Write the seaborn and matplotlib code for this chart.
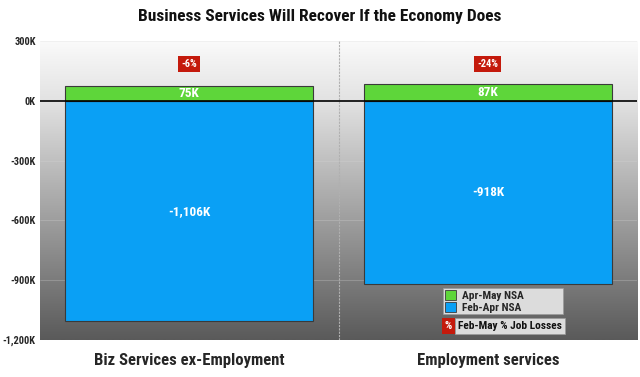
import numpy as np
import pandas as pd
import matplotlib
matplotlib.use("Agg")
import matplotlib.pyplot as plt
import matplotlib.patches as mpatches
from matplotlib import font_manager
import seaborn as sns

categories = ["Biz Services ex-Employment", "Employment services"]
feb_apr = [-1106, -918]
apr_may = [75, 87]
pct_losses = ["-6%", "-24%"]
yticks = [300, 0, -300, -600, -900, -1200]
ytick_labels = ["300K", "0K", "-300K", "-600K", "-900K", "-1,200K"]

sns.set_theme(style="white")
names = {f.name for f in font_manager.fontManager.ttflist}
fam = "DejaVu Sans"
for cand in ["Roboto Condensed", "Archivo Narrow", "Liberation Sans Narrow", "PT Sans Narrow", "Roboto"]:
    if cand in names:
        fam = cand
        break
plt.rcParams["font.family"] = [fam, "DejaVu Sans"]

df = pd.DataFrame({"cat": categories, "feb_apr": feb_apr, "apr_may": apr_may})

fig = plt.figure(figsize=(6.4, 3.77), dpi=100)
ax = fig.add_axes([0.0625, 0.098, 0.933, 0.793])

# gradient background
grad = np.linspace(0, 1, 256).reshape(-1, 1)
cmap = matplotlib.colors.LinearSegmentedColormap.from_list(
    "bg", [(0.0, "#fafafa"), (0.2, "#e2e2e2"), (1.0, "#5a5a5a")])
ax.imshow(grad, aspect="auto", cmap=cmap, extent=(-0.5, 1.5, -1200, 300), origin="upper", zorder=0)

sns.barplot(data=df, x="cat", y="feb_apr", color="#0aa0f5", width=0.83, saturation=1,
            edgecolor="#3a3a3a", linewidth=0.8, ax=ax, zorder=3)
sns.barplot(data=df, x="cat", y="apr_may", color="#5ed63a", width=0.83, saturation=1,
            edgecolor="#3a3a3a", linewidth=0.8, ax=ax, zorder=3)

ax.set_xlim(-0.5, 1.5)
ax.set_ylim(-1200, 300)
for yv in yticks:
    ax.axhline(yv, color="#d8d8d8", lw=0.4, alpha=0.5, zorder=1)
ax.axhline(0, color="black", lw=1.2, zorder=4)
ax.axvline(0.5, color="#b0b0b0", lw=0.8, ls=(0, (2, 1)), zorder=1)

ax.set_yticks(yticks)
ax.set_yticklabels(ytick_labels, fontsize=7.5, fontweight="bold")
ax.set_xticks([0, 1])
ax.set_xticklabels(categories, fontsize=12, fontweight="bold")
ax.tick_params(axis="x", pad=9, length=0)
ax.tick_params(axis="y", pad=3, length=0)
ax.set_xlabel("")
ax.set_ylabel("")
for s in ax.spines.values():
    s.set_visible(False)

for i in range(len(categories)):
    ax.text(i, apr_may[i] / 2, f"{apr_may[i]}K", ha="center", va="center", color="white",
            fontsize=9.5, fontweight="bold", zorder=5)
    ax.text(i, feb_apr[i] / 2, f"{feb_apr[i]:,}K", ha="center", va="center", color="white",
            fontsize=9.5, fontweight="bold", zorder=5)
    ax.text(i, 185, pct_losses[i], ha="center", va="center", color="white", fontsize=7.5,
            fontweight="bold", zorder=5,
            bbox=dict(boxstyle="square,pad=0.3", fc="#c41a0c", ec="none"))

handles = [mpatches.Patch(fc="#5ed63a", ec="#3a3a3a", lw=0.6, label="Apr-May NSA"),
           mpatches.Patch(fc="#0aa0f5", ec="#3a3a3a", lw=0.6, label="Feb-Apr NSA")]
leg = ax.legend(handles=handles, loc="upper left", bbox_to_anchor=(0.675, 0.173, 0.201, 0.0),
                mode="expand", fontsize=8.2, frameon=True, fancybox=False, framealpha=1,
                handlelength=1.0, handleheight=1.0, handletextpad=0.5,
                borderpad=0.15, labelspacing=0.05, borderaxespad=0)
leg.get_frame().set_facecolor("#dcdcdc")
leg.get_frame().set_edgecolor("#9a9a9a")
leg.get_frame().set_linewidth(0.5)
leg.set_zorder(6)
for t in leg.get_texts():
    t.set_fontweight("bold")

ax.text(0.6835, 0.047, "%", transform=ax.transAxes, ha="center", va="center", color="white",
        fontsize=8.2, fontweight="bold", zorder=7,
        bbox=dict(boxstyle="square,pad=0.25", fc="#c41a0c", ec="none"))
ax.text(0.700, 0.047, "Feb-May % Job Losses", transform=ax.transAxes, ha="left", va="center",
        color="#111111", fontsize=8.2, fontweight="bold", zorder=7,
        bbox=dict(boxstyle="square,pad=0.25", fc="#dcdcdc", ec="#9a9a9a", lw=0.5))

fig.text(0.5, 0.955, "Business Services Will Recover If the Economy Does", ha="center",
         va="center", fontsize=12.5, fontweight="bold", color="#111111")

fig.savefig("out.png", dpi=100)
